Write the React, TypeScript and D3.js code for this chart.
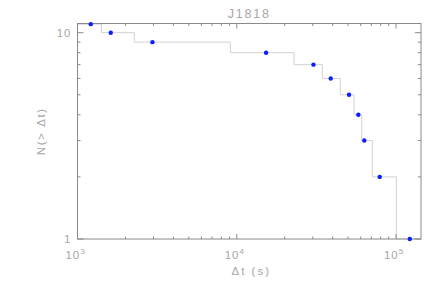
import React from "react";
import * as d3 from "d3";

// cumulative waiting-time distribution, J1818
const pointDt = [1212, 1618, 2954, 15280, 30300, 38900, 50700, 58000, 63200, 79000, 122000];
const pointN = [11, 10, 9, 8, 7, 6, 5, 4, 3, 2, 1];

// step outline: level N holds until the edge, then drops
const stepEdges = [1000, 1413, 2275, 9120, 22900, 34500, 44700, 54500, 60900, 71000, 100500];
const stepN = [11, 10, 9, 8, 7, 6, 5, 4, 3, 2, 1];

const xTickLabels = [
  { v: 1e3, exp: "3" },
  { v: 1e4, exp: "4" },
  { v: 1e5, exp: "5" },
];
const yTickLabels = [1, 10];

const W = 445;
const H = 289;
const m = { left: 77.5, right: 24, top: 23.5, bottom: 50 };

const axisCol = "#8a8a8a";
const textCol = "#a6a6a6";
const font = "'Liberation Sans', Arial, sans-serif";

export default function App() {
  const x = d3.scaleLog().domain([1000, 143500]).range([m.left, W - m.right]);
  const y = d3.scaleLog().domain([1, 11.08]).range([H - m.bottom, m.top]);
  const x0 = m.left, x1 = W - m.right, y0 = H - m.bottom, y1 = m.top;

  // build step path
  const pts: [number, number][] = [];
  for (let i = 0; i < stepN.length - 1; i++) {
    pts.push([x(stepEdges[i]), y(stepN[i])]);
    pts.push([x(stepEdges[i + 1]), y(stepN[i])]);
  }
  pts.push([x(stepEdges[stepEdges.length - 1]), y(1)]);
  pts.push([x1, y(1)]);
  const stepPath = d3.line()(pts);

  const xMinor: number[] = [];
  for (let e = 3; e <= 5; e++) {
    for (let k = 1; k <= 9; k++) {
      const v = k * Math.pow(10, e);
      if (v >= 1000 && v <= 143500) xMinor.push(v);
    }
  }
  const yTicks = [1, 2, 3, 4, 5, 6, 7, 8, 9, 10];

  return (
    <svg width={W} height={H} style={{ position: "absolute", left: 0, top: 0 }}>
      <rect width={W} height={H} fill="#fff" />
      <text x={(x0 + x1) / 2} y={17.5} textAnchor="middle" fill={textCol}
        style={{ fontFamily: font, fontSize: 12.5, letterSpacing: 1.8 }}>J1818</text>

      <path d={stepPath || ""} fill="none" stroke="#d2d2d2" strokeWidth={1} />

      {/* frame */}
      <rect x={x0} y={y1} width={x1 - x0} height={y0 - y1} fill="none" stroke={axisCol} strokeWidth={1} />

      {/* x ticks, inward on bottom and top */}
      {xMinor.map((v, i) => {
        const major = Math.abs(Math.log10(v) % 1) < 1e-9;
        const len = major ? 5 : 2.5;
        const px = x(v);
        return (
          <g key={i} stroke={axisCol} strokeWidth={1}>
            <line x1={px} x2={px} y1={y0} y2={y0 - len} />
            <line x1={px} x2={px} y1={y1} y2={y1 + len} />
          </g>
        );
      })}

      {/* y ticks */}
      {yTicks.map((v, i) => {
        const major = v === 1 || v === 10;
        const len = major ? 6 : 3;
        const py = y(v);
        return (
          <g key={i} stroke={axisCol} strokeWidth={1}>
            <line x1={x0} x2={x0 + len} y1={py} y2={py} />
            <line x1={x1} x2={x1 - len} y1={py} y2={py} />
          </g>
        );
      })}

      {/* x labels */}
      {xTickLabels.map((t, i) => (
        <text key={i} x={x(t.v) - 2} y={y0 + 19.5} textAnchor="middle" fill={textCol}
          style={{ fontFamily: font, fontSize: 11.5, letterSpacing: 1 }}>
          10<tspan dy={-5} style={{ fontSize: 8 }}>{t.exp}</tspan>
        </text>
      ))}

      {/* y labels */}
      {yTickLabels.map((v, i) => (
        <text key={i} x={x0 - 6} y={y(v) + 4} textAnchor="end" fill={textCol}
          style={{ fontFamily: font, fontSize: 11.5, letterSpacing: 1 }}>{v}</text>
      ))}

      <text x={(x0 + x1) / 2 + 2} y={y0 + 36} textAnchor="middle" fill={textCol}
        style={{ fontFamily: font, fontSize: 11.5, letterSpacing: 2 }}>Δt (s)</text>
      <text transform={`translate(${45},${(y0 + y1) / 2}) rotate(-90)`} textAnchor="middle" fill={textCol}
        style={{ fontFamily: font, fontSize: 11.5, letterSpacing: 1.6 }}>N(&gt; Δt)</text>

      {pointDt.map((d, i) => (
        <circle key={i} cx={x(d)} cy={y(pointN[i])} r={2.2} fill="#0a1eff" />
      ))}
    </svg>
  );
}
